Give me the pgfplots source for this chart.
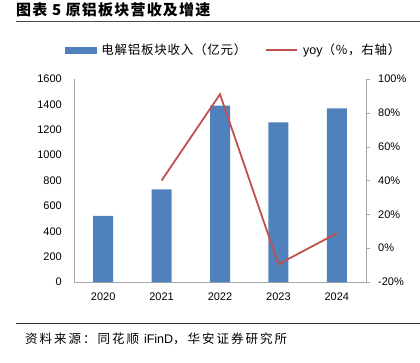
\documentclass[border=0pt]{standalone}
\usepackage{pgfplots}
\pgfplotsset{compat=1.18}
\usepackage{fontspec}
\setmainfont{Liberation Sans}
\newfontfamily\cjk{Noto Sans CJK SC}
\newfontfamily\cjkt[LetterSpace=8]{Noto Sans CJK SC}
\newfontfamily\cjkf[LetterSpace=16]{Noto Sans CJK SC}
\newfontfamily\cjkl[LetterSpace=6]{Noto Sans CJK SC}
\definecolor{barblue}{HTML}{4F81BD}
\definecolor{linered}{HTML}{C0504D}
\definecolor{axgray}{HTML}{A6A6A6}
\begin{document}
\begin{tikzpicture}
\useasboundingbox (0pt,0pt) rectangle (420pt,-362pt);
\node[anchor=west, inner sep=0pt] at (16pt,-10pt) {\fontsize{15pt}{17pt}\selectfont\cjkt\bfseries 图表 5 原铝板块营收及增速};
\draw[line width=1pt, black!70] (16pt,-21pt) -- (420pt,-21pt);
\draw[line width=0.8pt, black!80] (16pt,-323pt) -- (420pt,-323pt);
\node[anchor=west, inner sep=0pt] at (25pt,-339pt) {\fontsize{12.5pt}{14pt}\selectfont\cjkf 资料来源：同花顺 {\rmfamily iFinD}，华安证券研究所};
\begin{axis}[
  at={(74pt,-282pt)}, anchor=south west, scale only axis,
  width=292pt, height=203pt,
  xmin=-0.5, xmax=4.5, ymin=0, ymax=1600,
  ytick={0,200,...,1600},
  xtick={0,1,2,3,4}, xticklabels={2020,2021,2022,2023,2024},
  axis x line*=bottom, axis y line*=left,
  axis line style={axgray, -}, major tick length=0pt,
  tick style={draw=none},
  ticklabel style={font=\fontsize{11pt}{13pt}\selectfont},
  /pgf/number format/assume math mode=true,
  /pgf/number format/1000 sep={},
  yticklabel style={inner sep=0pt, xshift=-12pt},
  xticklabel style={inner sep=0pt, yshift=-11pt},
  ybar, bar width=20pt,
]
\addplot[fill=barblue, draw=none] coordinates {(0,522) (1,730) (2,1390) (3,1258) (4,1368)};
\end{axis}
\begin{axis}[
  at={(74pt,-282pt)}, anchor=south west, scale only axis,
  width=292pt, height=203pt,
  xmin=-0.5, xmax=4.5, ymin=-20, ymax=100,
  ytick={-20,0,...,100},
  yticklabel={\pgfmathprintnumber{\tick}\%},
  axis x line=none, axis y line*=right,
  axis line style={axgray, -},
  tick align=outside, major tick length=4pt,
  tick style={axgray},
  ticklabel style={font=\fontsize{11pt}{13pt}\selectfont},
  /pgf/number format/assume math mode=true,
  yticklabel style={inner sep=0pt, xshift=8pt},
  legend columns=2,
  legend style={draw=none, fill=none, at={(0.552,1.143)}, anchor=center,
    font=\fontsize{12.5pt}{14pt}\selectfont\cjkl, inner sep=0pt,
    /tikz/every even column/.append style={column sep=14pt},
    nodes={inner xsep=5pt}},
]
\addlegendimage{legend image code/.code={\fill[barblue] (0pt,-3pt) rectangle (31pt,3pt);}}
\addlegendentry{电解铝板块收入（亿元）}
\addplot[linered, line width=1.8pt, mark=none, legend image code/.code={\draw[linered, line width=1.8pt] (0pt,0pt) -- (31pt,0pt);}] coordinates {(1,40) (2,91) (3,-9.5) (4,8.8)};
\addlegendentry{{\rmfamily yoy}（\%，右轴）}
\end{axis}
\end{tikzpicture}
\end{document}
